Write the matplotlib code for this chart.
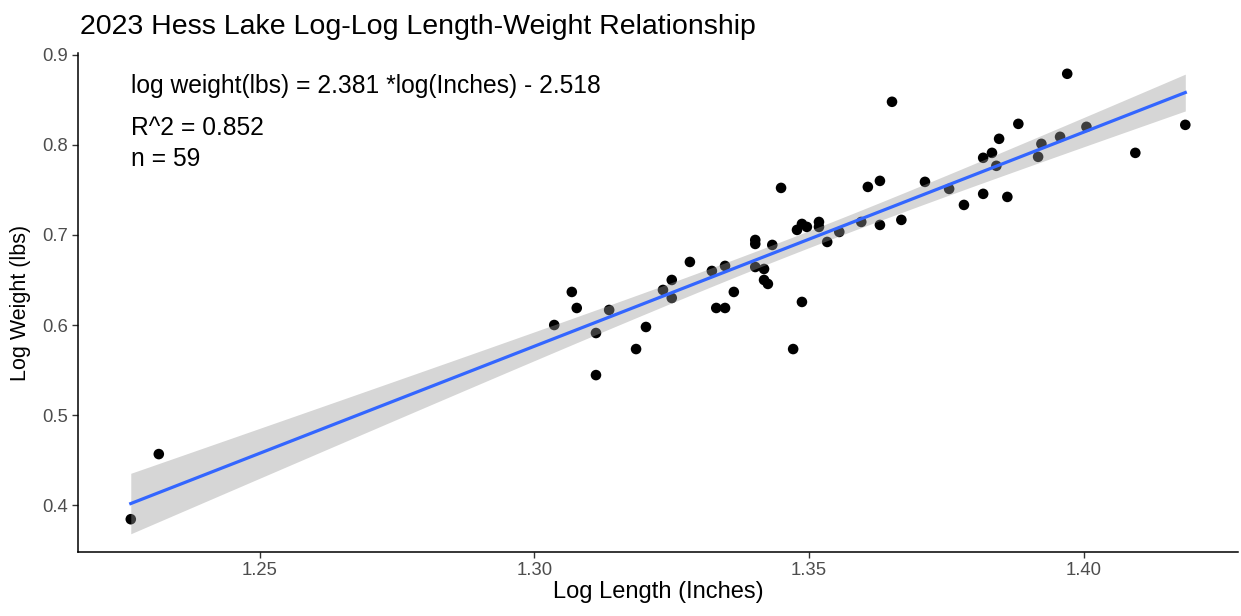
import numpy as np
import matplotlib
matplotlib.use("Agg")
import matplotlib.pyplot as plt

plt.rcParams['font.family'] = ['Liberation Sans', 'DejaVu Sans']

# log10 length (inches) and log10 weight (lbs) for each fish
log_length = [1.2265, 1.2316, 1.3036, 1.3068, 1.3077, 1.3112, 1.3112, 1.3136,
              1.3185, 1.3203, 1.3234, 1.3250, 1.3250, 1.3283, 1.3323, 1.3331,
              1.3347, 1.3347, 1.3363, 1.3402, 1.3402, 1.3402, 1.3418, 1.3418,
              1.3425, 1.3433, 1.3449, 1.3471, 1.3478, 1.3487, 1.3487, 1.3496,
              1.3518, 1.3518, 1.3533, 1.3555, 1.3595, 1.3607, 1.3629, 1.3629,
              1.3651, 1.3668, 1.3711, 1.3755, 1.3782, 1.3817, 1.3817, 1.3833,
              1.3841, 1.3846, 1.3861, 1.3881, 1.3917, 1.3923, 1.3957, 1.3970,
              1.4005, 1.4094, 1.4185]
log_weight = [0.3844, 0.4567, 0.6000, 0.6367, 0.6189, 0.5911, 0.5444, 0.6167,
              0.5733, 0.5978, 0.6389, 0.6500, 0.6300, 0.6700, 0.6600, 0.6189,
              0.6656, 0.6189, 0.6367, 0.6944, 0.6900, 0.6644, 0.6622, 0.6500,
              0.6456, 0.6889, 0.7522, 0.5733, 0.7056, 0.7122, 0.6256, 0.7089,
              0.7144, 0.7089, 0.6922, 0.7033, 0.7144, 0.7533, 0.7600, 0.7111,
              0.8478, 0.7167, 0.7589, 0.7511, 0.7333, 0.7856, 0.7456, 0.7911,
              0.7767, 0.8067, 0.7422, 0.8233, 0.7867, 0.8011, 0.8089, 0.8789,
              0.8200, 0.7911, 0.8222]

eq_text = "log weight(lbs) = 2.381 *log(Inches) - 2.518"
r2_text = "R^2 = 0.852"
n_text = "n = 59"

x = np.array(log_length)
y = np.array(log_weight)
n = len(x)

# least squares line + 95% confidence band (like geom_smooth(method="lm"))
slope, intercept = np.polyfit(x, y, 1)
resid = y - (slope * x + intercept)
s = np.sqrt(np.sum(resid ** 2) / (n - 2))
t_crit = 2.0025  # t(0.975, df=57)
xs = np.linspace(x.min(), x.max(), 200)
ys = slope * xs + intercept
se = s * np.sqrt(1.0 / n + (xs - x.mean()) ** 2 / np.sum((x - x.mean()) ** 2))

fig = plt.figure(figsize=(12.41, 6.16), dpi=100)
ax = fig.add_axes([0.0629, 0.1039, 0.9347, 0.8101])

ax.scatter(x, y, s=58, color='black', edgecolors='none', zorder=2)
ax.fill_between(xs, ys - t_crit * se, ys + t_crit * se, color='#999999',
                alpha=0.4, linewidth=0, zorder=3)
ax.plot(xs, ys, color='#3366FF', linewidth=2.3, zorder=4)

ax.set_xlim(1.2169, 1.4281)
ax.set_ylim(0.348, 0.902)
ax.set_xticks([1.25, 1.30, 1.35, 1.40])
ax.set_xticklabels(['1.25', '1.30', '1.35', '1.40'])
ax.set_yticks([0.4, 0.5, 0.6, 0.7, 0.8, 0.9])
ax.set_yticklabels(['0.4', '0.5', '0.6', '0.7', '0.8', '0.9'])

for side in ['top', 'right']:
    ax.spines[side].set_visible(False)
for side in ['left', 'bottom']:
    ax.spines[side].set_linewidth(1.1)
    ax.spines[side].set_color('black')
ax.tick_params(axis='both', colors='#333333', labelcolor='#4D4D4D',
               labelsize=13.3, length=4, width=1.0, pad=3)

ax.set_xlabel("Log Length (Inches)", fontsize=17, labelpad=2)
ax.set_ylabel("Log Weight (lbs)", fontsize=15.5, labelpad=8)
fig.text(80 / 1241, 1 - 34 / 616, "2023 Hess Lake Log-Log Length-Weight Relationship",
         fontsize=20.5, ha='left', va='baseline')

ax.text(1.2265, 0.8578, eq_text, fontsize=17.7, ha='left', va='baseline')
ax.text(1.2265, 0.8111, r2_text, fontsize=17.7, ha='left', va='baseline')
ax.text(1.2265, 0.7767, n_text, fontsize=17.7, ha='left', va='baseline')

fig.savefig("out.png", dpi=100)
